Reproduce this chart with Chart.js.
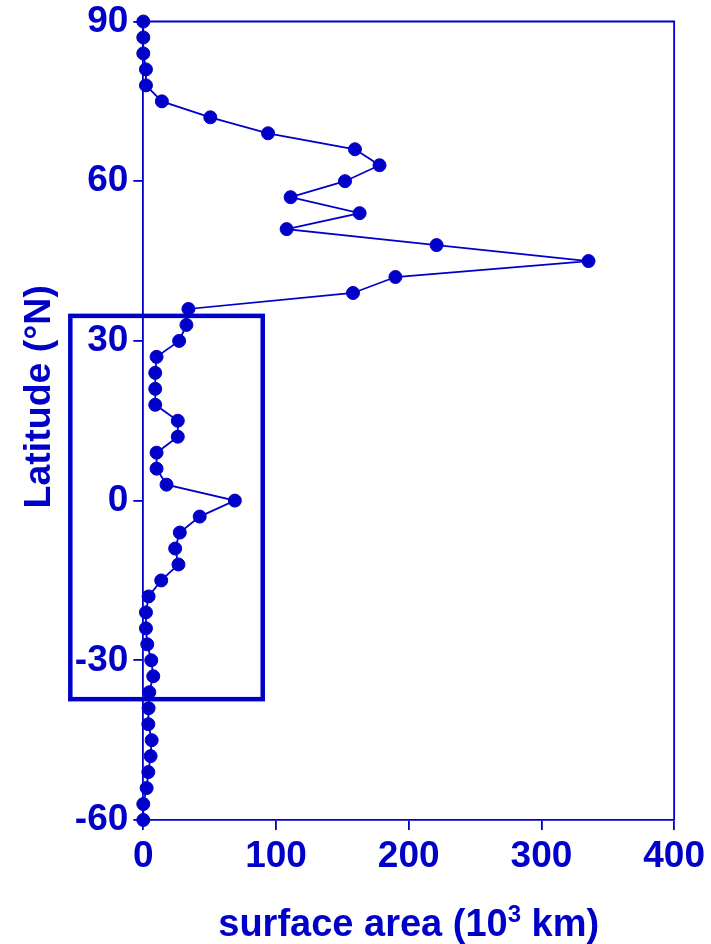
<!DOCTYPE html>
<html>
<head>
<meta charset="utf-8">
<script src="https://cdn.jsdelivr.net/npm/chart.js@4/dist/chart.umd.min.js"></script>
<style>
  html, body { margin: 0; padding: 0; background: #ffffff; }
  #wrap { width: 711px; height: 944px; }
</style>
</head>
<body>
<div id="wrap"><canvas id="chart" width="711" height="944"></canvas></div>
<script>
// Latitude bands (°N), every 3 degrees from the pole southwards
const latitude = [
  90, 87, 84, 81, 78, 75, 72, 69, 66, 63, 60, 57, 54, 51, 48, 45, 42,
  39, 36, 33, 30, 27, 24, 21, 18, 15, 12, 9, 6, 3, 0, -3, -6, -9, -12,
  -15, -18, -21, -24, -27, -30, -33, -36, -39, -42, -45, -48, -51, -54,
  -57, -60
];

// Surface area per band (10^3 km)
const surfaceArea = [
  0, 0, 0, 2, 2, 14, 50.5, 94, 159.5, 178, 152, 111, 163, 108, 221, 335.5, 190,
  158, 34, 32.5, 27, 10, 9, 9, 9, 26, 26, 10, 10, 17.5, 69, 42.5, 27.5, 24, 26.5,
  13.5, 4, 2, 2, 3, 6, 7.5, 4.5, 4, 3.8, 6.3, 5.5, 3.8, 2.5,
  0, 0
];

// Axis ticks
const xTickValues = [0, 100, 200, 300, 400];
const yTickValues = [-60, -30, 0, 30, 60, 90];

// Axis titles
const xTitleParts = ['surface area (10', '3', ' km)'];
const yTitleText = 'Latitude (°N)';

// Highlighted tropical region, in axis units
const tropicsBox = { xMin: -55, xMax: 90, latMin: -37.3, latMax: 34.7 };

const BLUE = 'rgb(0,0,200)';
const FONT_FAMILY = '"Liberation Sans", Arial, Helvetica, sans-serif';

const framePlugin = {
  id: 'frameAndTitles',
  beforeDatasetsDraw(chart) {
    const { ctx, chartArea: a, scales: { x, y } } = chart;
    ctx.save();
    // top and right edges of the plot frame
    ctx.strokeStyle = BLUE;
    ctx.lineWidth = 1.8;
    ctx.beginPath();
    ctx.moveTo(a.left, a.top);
    ctx.lineTo(a.right, a.top);
    ctx.lineTo(a.right, a.bottom);
    ctx.stroke();
    // box around the tropics
    const l = x.getPixelForValue(tropicsBox.xMin);
    const r = x.getPixelForValue(tropicsBox.xMax);
    const t = y.getPixelForValue(tropicsBox.latMax);
    const b = y.getPixelForValue(tropicsBox.latMin);
    ctx.lineWidth = 4.5;
    ctx.strokeRect(l, t, r - l, b - t);
    ctx.restore();
  },
  afterDraw(chart) {
    const { ctx, chartArea: a } = chart;
    ctx.save();
    ctx.fillStyle = BLUE;
    ctx.textBaseline = 'alphabetic';
    ctx.textAlign = 'left';

    // x-axis title with a superscript exponent
    const mainFont = 'bold 38px ' + FONT_FAMILY;
    const supFont = 'bold 24px ' + FONT_FAMILY;
    ctx.font = mainFont;
    const w1 = ctx.measureText(xTitleParts[0]).width;
    const w3 = ctx.measureText(xTitleParts[2]).width;
    ctx.font = supFont;
    const w2 = ctx.measureText(xTitleParts[1]).width;
    const cx = (a.left + a.right) / 2;
    let px = cx - (w1 + w2 + w3) / 2;
    const baseY = 936;
    ctx.font = mainFont;
    ctx.fillText(xTitleParts[0], px, baseY);
    px += w1;
    ctx.font = supFont;
    ctx.fillText(xTitleParts[1], px, baseY - 14);
    px += w2;
    ctx.font = mainFont;
    ctx.fillText(xTitleParts[2], px, baseY);

    // y-axis title, rotated
    ctx.translate(50, (a.top + a.bottom) / 2 - 24);
    ctx.rotate(-Math.PI / 2);
    ctx.textAlign = 'center';
    ctx.font = 'bold 37.5px ' + FONT_FAMILY;
    ctx.fillText(yTitleText, 0, 0);
    ctx.restore();
  }
};

const xTickFont = { family: FONT_FAMILY, size: 37, weight: 'bold', lineHeight: 1.1 };
const yTickFont = { family: FONT_FAMILY, size: 37, weight: 'bold', lineHeight: 0.8 };

new Chart(document.getElementById('chart'), {
  type: 'scatter',
  data: {
    datasets: [{
      data: latitude.map((lat, i) => ({ x: surfaceArea[i], y: lat })),
      showLine: true,
      borderColor: BLUE,
      borderWidth: 1.8,
      backgroundColor: BLUE,
      pointRadius: 6.5,
      pointBorderWidth: 1,
      pointBackgroundColor: BLUE,
      pointBorderColor: BLUE,
      pointHoverRadius: 6.5,
      tension: 0,
      clip: false
    }]
  },
  options: {
    responsive: false,
    devicePixelRatio: 1,
    animation: false,
    events: [],
    layout: { padding: { left: 0, top: 21.5, right: 35.3, bottom: 0 } },
    plugins: {
      legend: { display: false },
      tooltip: { enabled: false },
      title: { display: false }
    },
    scales: {
      x: {
        type: 'linear',
        min: 0,
        max: 400,
        afterBuildTicks: s => { s.ticks = xTickValues.map(v => ({ value: v })); },
        afterFit: s => { s.height = 124; },
        border: { display: true, color: BLUE, width: 1.8 },
        grid: { drawOnChartArea: false, drawTicks: true, tickLength: 10, color: BLUE, lineWidth: 1.8 },
        ticks: { color: BLUE, font: xTickFont, padding: 6, maxRotation: 0, autoSkip: false }
      },
      y: {
        type: 'linear',
        min: -60,
        max: 90,
        afterBuildTicks: s => { s.ticks = yTickValues.map(v => ({ value: v })); },
        afterFit: s => { s.width = 143.3; },
        border: { display: true, color: BLUE, width: 1.8 },
        grid: { drawOnChartArea: false, drawTicks: true, tickLength: 10, color: BLUE, lineWidth: 1.8 },
        ticks: { color: BLUE, font: yTickFont, padding: 5, autoSkip: false }
      }
    }
  },
  plugins: [framePlugin]
});
</script>
</body>
</html>
